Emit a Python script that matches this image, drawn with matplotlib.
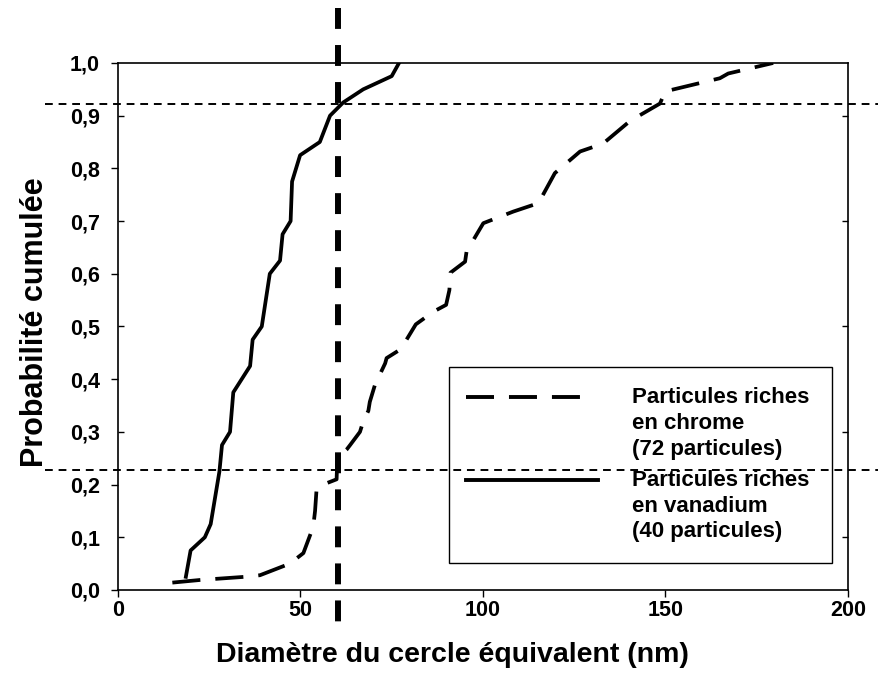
import matplotlib
matplotlib.use("Agg")
import matplotlib.pyplot as plt
import numpy as np
from matplotlib.lines import Line2D
from matplotlib.patches import Rectangle
from matplotlib.ticker import FuncFormatter
from matplotlib.transforms import blended_transform_factory

plt.rcParams['font.family'] = ['Liberation Sans', 'DejaVu Sans']
plt.rcParams['font.weight'] = 'bold'
plt.rcParams['axes.labelweight'] = 'bold'

# Particules riches en vanadium (40 particules) - courbe cumulée
v_diam = [18.6, 19.9, 23.8, 25.4, 26.6, 27.8, 28.5, 30.7, 31.6, 36.2, 36.9, 39.4,
          40.5, 41.6, 44.4, 45.1, 47.3, 47.7, 49.9, 55.3, 58.1, 61.7, 67.2, 75.0, 77.0]
v_prob = [0.025, 0.075, 0.100, 0.125, 0.175, 0.225, 0.275, 0.300, 0.375, 0.425, 0.475, 0.500,
          0.550, 0.600, 0.625, 0.675, 0.700, 0.775, 0.825, 0.850, 0.900, 0.925, 0.950, 0.975, 1.000]

# Particules riches en chrome (72 particules)
cr_diam = [14.9, 22.5, 34.8, 38.9, 47.1, 50.8, 53.5, 54.0, 54.4, 56.2, 59.9, 60.1,
           62.6, 63.6, 66.3, 67.2, 68.6, 69.0, 70.4, 73.2, 73.6, 77.5, 79.5, 81.6,
           86.4, 89.9, 90.8, 91.1, 95.1, 95.5, 98.3, 100.1, 108.3, 115.2, 119.7, 126.6,
           132.9, 140.3, 148.5, 149.9, 164.9, 167.2, 179.5]
cr_prob = [0.014, 0.019, 0.025, 0.028, 0.050, 0.070, 0.120, 0.150, 0.190, 0.200, 0.210, 0.250,
           0.266, 0.275, 0.300, 0.320, 0.340, 0.357, 0.389, 0.430, 0.440, 0.457, 0.480, 0.504,
           0.528, 0.541, 0.569, 0.602, 0.623, 0.642, 0.675, 0.696, 0.718, 0.734, 0.791, 0.832,
           0.847, 0.890, 0.923, 0.946, 0.971, 0.980, 1.000]

# seuils tracés en pointillés
d_seuil = 60.3
p_haut = 0.922
p_bas = 0.228

fig = plt.figure(figsize=(8.79, 6.95), dpi=100)
ax = fig.add_axes([0.1342, 0.1511, 0.8305, 0.7583])

ax.plot(cr_diam, cr_prob, color='black', lw=2.7, dashes=(7.5, 4), dash_capstyle='butt')
ax.plot(v_diam, v_prob, color='black', lw=2.7)

ax.set_xlim(0, 200)
ax.set_ylim(0, 1)
ax.set_xticks([0, 50, 100, 150, 200])
ax.set_yticks(np.arange(0, 1.01, 0.2))
ax.set_yticks(np.arange(0.1, 1.0, 0.2), minor=True)
fmt = FuncFormatter(lambda v, pos: f"{v:.1f}".replace('.', ','))
ax.yaxis.set_major_formatter(fmt)
ax.yaxis.set_minor_formatter(fmt)

ax.tick_params(axis='x', direction='out', length=5, width=1, pad=2, labelsize=15.5)
ax.tick_params(axis='y', which='major', direction='out', length=5, width=1, pad=8, labelsize=15.5)
ax.tick_params(axis='y', which='minor', direction='in', length=4, width=1, pad=13,
               labelsize=15.5, left=True, right=True)
for s in ax.spines.values():
    s.set_linewidth(1.2)

ax.set_xlabel('Diamètre du cercle équivalent (nm)', fontsize=20.5, va='center')
ax.xaxis.set_label_coords(0.458, -0.123)
ax.set_ylabel('Probabilité cumulée', fontsize=22, va='center')
ax.yaxis.set_label_coords(-0.113, 0.509)

# lignes de repère qui débordent du cadre
trans_h = blended_transform_factory(fig.transFigure, ax.transData)
for p in (p_haut, p_bas):
    fig.add_artist(Line2D([0.051, 1.0], [p, p], transform=trans_h, color='black',
                          lw=1.4, dashes=(4, 3)))
trans_v = blended_transform_factory(ax.transData, fig.transFigure)
fig.add_artist(Line2D([d_seuil, d_seuil], [0.988, 0.098], transform=trans_v, color='black',
                      lw=4.3, dashes=(3.5, 2.7), dash_capstyle='butt'))

# légende
ax.add_patch(Rectangle((0.4534, 0.0512), 0.5246, 0.3718, transform=ax.transAxes,
                       facecolor='none', edgecolor='black', lw=1))
ax.add_line(Line2D([0.477, 0.638], [0.366, 0.366], transform=ax.transAxes, color='black',
                   lw=2.8, dashes=(7.2, 3.85), dash_capstyle='butt'))
ax.add_line(Line2D([0.477, 0.658], [0.209, 0.209], transform=ax.transAxes, color='black',
                   lw=2.8))
ax.text(0.704, 0.385, 'Particules riches\nen chrome\n(72 particules)', transform=ax.transAxes,
        fontsize=16, va='top', linespacing=1.3)
ax.text(0.704, 0.228, 'Particules riches\nen vanadium\n(40 particules)', transform=ax.transAxes,
        fontsize=16, va='top', linespacing=1.3)

plt.savefig('out.png', dpi=100)
